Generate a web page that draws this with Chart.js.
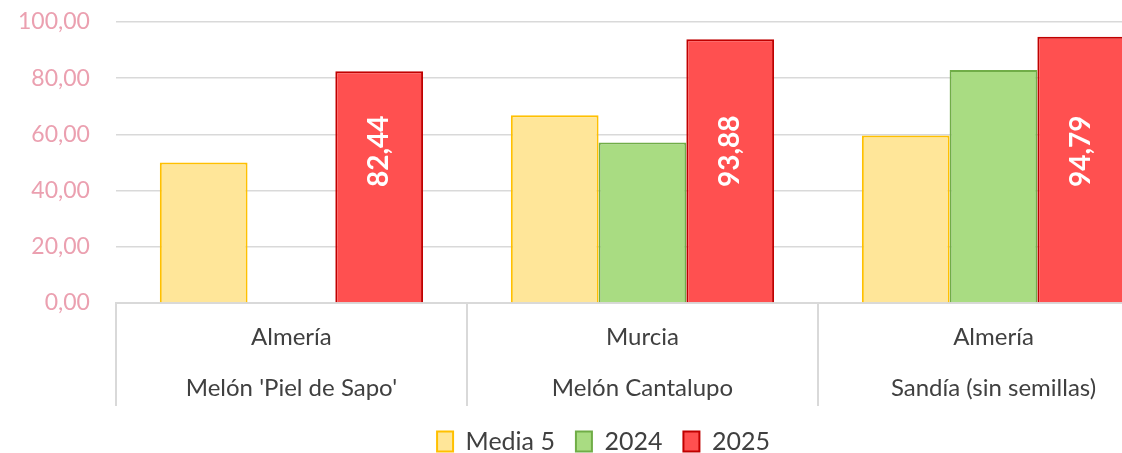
<!DOCTYPE html>
<html>
<head>
<meta charset="utf-8">
<script src="https://cdn.jsdelivr.net/npm/chart.js@4"></script>
<style>
  html, body { margin: 0; padding: 0; overflow: hidden; background: #fff; }
  #wrap { width: 1206px; height: 453px; }
</style>
</head>
<body>
<div id="wrap"><canvas id="myChart"></canvas></div>
<script>
// datos del gráfico
const productos = ["Melón 'Piel de Sapo'", "Melón Cantalupo", "Sandía (sin semillas)"];
const origenes = ["Almería", "Murcia", "Almería"];
const media5 = [50.0, 66.8, 59.6];
const serie2024 = [null, 57.1, 82.9];
const serie2025 = [82.44, 93.88, 94.79];
const yTicks = [0, 20, 40, 60, 80, 100];

const fmt = v => v.toFixed(2).replace('.', ',');

// etiquetas blancas giradas + separadores del eje x
const extras = {
    id: 'extras',
    afterLayout(chart) {
        // centrar la leyenda como en el original
        chart.legend.left += 23;
        chart.legend.right += 23;
    },
    afterDatasetsDraw(chart) {
        const ctx = chart.ctx;
        const xs = chart.scales.x;
        const meta = chart.getDatasetMeta(2);
        const y = chart.scales.y.getPixelForValue(54);
        ctx.save();
        ctx.fillStyle = '#ffffff';
        ctx.font = 'bold 28px Lato';
        ctx.textAlign = 'center';
        ctx.textBaseline = 'middle';
        meta.data.forEach((bar, i) => {
            ctx.save();
            ctx.translate(bar.x, y);
            ctx.rotate(-Math.PI / 2);
            ctx.fillText(fmt(serie2025[i]), 0, 0);
            ctx.restore();
        });
        // líneas verticales entre categorías
        ctx.strokeStyle = '#d9d9d9';
        ctx.lineWidth = 2;
        const half = (xs.getPixelForValue(1) - xs.getPixelForValue(0)) / 2;
        for (let i = 0; i <= productos.length; i++) {
            const px = Math.round(xs.getPixelForValue(0) - half + i * half * 2);
            ctx.beginPath();
            ctx.moveTo(px, xs.top);
            ctx.lineTo(px, xs.top + 103);
            ctx.stroke();
        }
        ctx.restore();
    }
};

const ctx = document.getElementById('myChart').getContext('2d');
new Chart(ctx, {
    type: 'bar',
    data: {
        labels: origenes.map((o, i) => [o, productos[i]]),
        datasets: [{
            label: 'Media 5',
            data: media5,
            backgroundColor: '#FFE699',
            borderColor: '#FFC000',
            borderWidth: 2
        }, {
            label: '2024',
            data: serie2024,
            backgroundColor: '#A9DC82',
            borderColor: '#70AD47',
            borderWidth: 2
        }, {
            label: '2025',
            data: serie2025,
            backgroundColor: '#FF5050',
            borderColor: '#C00000',
            borderWidth: 2
        }]
    },
    options: {
        responsive: true,
        maintainAspectRatio: false,
        animation: false,
        layout: { padding: { top: 22, right: 37, left: -8, bottom: -11 } },
        categoryPercentage: 0.75,
        barPercentage: 1.0,
        plugins: {
            tooltip: { enabled: false },
            legend: {
                position: 'bottom',
                labels: {
                    boxWidth: 16,
                    boxHeight: 20,
                    padding: 21,
                    color: '#404040',
                    font: { family: 'Lato', size: 25 }
                }
            }
        },
        scales: {
            x: {
                border: { color: '#d9d9d9', width: 2 },
                grid: { display: false },
                afterFit: scale => { scale.height = 105; },
                ticks: {
                    padding: 1,
                    color: '#404040',
                    font: { family: 'Lato', size: 24, lineHeight: 2.13 },
                    maxRotation: 0
                }
            },
            y: {
                min: 0,
                max: 100,
                afterBuildTicks: scale => { scale.ticks = yTicks.map(v => ({ value: v })); },
                afterFit: scale => { scale.paddingTop = 0; scale.paddingBottom = 0; },
                border: { display: false },
                grid: { color: '#d9d9d9', lineWidth: 1.5, drawTicks: false },
                ticks: {
                    padding: 26,
                    color: '#EBA0B0',
                    font: { family: 'Lato', size: 23 },
                    callback: v => fmt(v)
                }
            }
        }
    },
    plugins: [extras]
});
</script>
</body>
</html>
